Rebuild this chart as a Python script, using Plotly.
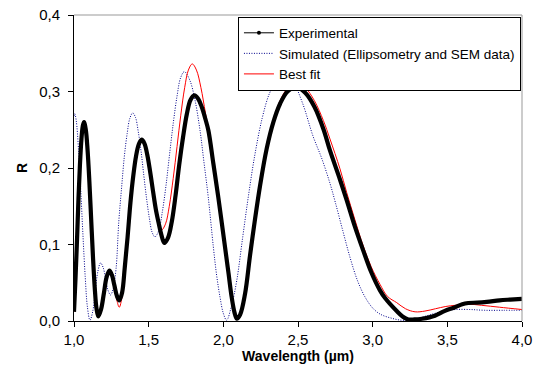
import plotly.graph_objects as go

# Experimental (black, thick)
exp_x = [1.000, 1.010, 1.020, 1.030, 1.040, 1.050, 1.059, 1.067, 1.079, 1.091, 1.103, 1.115, 1.127, 1.139,
         1.151, 1.163, 1.181, 1.200, 1.218, 1.237, 1.254, 1.270, 1.287, 1.303, 1.322, 1.340, 1.359, 1.378,
         1.397, 1.415, 1.434, 1.453, 1.472, 1.491, 1.510, 1.529, 1.548, 1.567, 1.586, 1.605, 1.630, 1.655,
         1.680, 1.705, 1.730, 1.755, 1.780, 1.806, 1.830, 1.855, 1.880, 1.900, 1.933, 1.966, 2.011, 2.035,
         2.056, 2.075, 2.090, 2.112, 2.145, 2.179, 2.210, 2.246, 2.290, 2.335, 2.380, 2.430, 2.491, 2.550,
         2.610, 2.670, 2.714, 2.781, 2.826, 2.880, 2.937, 2.990, 3.049, 3.083, 3.161, 3.200, 3.239, 3.280,
         3.330, 3.417, 3.480, 3.551, 3.600, 3.640, 3.700, 3.764, 3.850, 3.920, 4.000]
exp_y = [0.012, 0.055, 0.105, 0.160, 0.205, 0.238, 0.255, 0.260, 0.250, 0.223, 0.182, 0.133, 0.084, 0.043,
         0.016, 0.006, 0.015, 0.036, 0.057, 0.066, 0.060, 0.047, 0.033, 0.027, 0.037, 0.070, 0.110, 0.155,
         0.190, 0.215, 0.231, 0.237, 0.232, 0.217, 0.195, 0.170, 0.146, 0.128, 0.112, 0.102, 0.109, 0.130,
         0.164, 0.205, 0.240, 0.270, 0.289, 0.295, 0.291, 0.280, 0.264, 0.249, 0.206, 0.162, 0.097, 0.062,
         0.031, 0.011, 0.003, 0.008, 0.035, 0.086, 0.130, 0.177, 0.225, 0.260, 0.284, 0.300, 0.306, 0.298,
         0.280, 0.251, 0.223, 0.185, 0.158, 0.124, 0.092, 0.064, 0.040, 0.030, 0.013, 0.006, 0.002, 0.002,
         0.003, 0.007, 0.013, 0.018, 0.022, 0.0235, 0.024, 0.025, 0.027, 0.028, 0.029]

# Simulated (blue dotted)
sim_x = [1.000, 1.005, 1.015, 1.030, 1.045, 1.060, 1.075, 1.090, 1.107, 1.125, 1.142, 1.160, 1.178, 1.195,
         1.212, 1.228, 1.245, 1.263, 1.282, 1.300, 1.319, 1.337, 1.356, 1.374, 1.393, 1.412, 1.430, 1.449,
         1.467, 1.486, 1.505, 1.523, 1.542, 1.567, 1.591, 1.616, 1.640, 1.665, 1.690, 1.714, 1.739, 1.775,
         1.810, 1.844, 1.870, 1.899, 1.933, 1.955, 1.978, 2.000, 2.022, 2.055, 2.090, 2.130, 2.167, 2.210,
         2.260, 2.310, 2.360, 2.413, 2.470, 2.530, 2.600, 2.660, 2.714, 2.750, 2.800, 2.850, 2.900, 2.950,
         3.000, 3.050, 3.120, 3.195, 3.260, 3.330, 3.417, 3.480, 3.551, 3.650, 3.750, 3.870, 4.000]
sim_y = [0.268, 0.271, 0.262, 0.225, 0.172, 0.112, 0.058, 0.018, 0.001, 0.012, 0.038, 0.065, 0.076, 0.070,
         0.055, 0.040, 0.034, 0.043, 0.069, 0.130, 0.175, 0.215, 0.245, 0.265, 0.272, 0.266, 0.248, 0.222,
         0.191, 0.160, 0.134, 0.116, 0.110, 0.118, 0.142, 0.177, 0.218, 0.259, 0.294, 0.318, 0.326, 0.315,
         0.289, 0.249, 0.208, 0.162, 0.097, 0.060, 0.031, 0.010, 0.001, 0.020, 0.053, 0.110, 0.162, 0.216,
         0.265, 0.298, 0.315, 0.320, 0.311, 0.285, 0.242, 0.212, 0.180, 0.155, 0.118, 0.082, 0.052, 0.031,
         0.017, 0.009, 0.004, 0.001, 0.002, 0.005, 0.010, 0.013, 0.015, 0.015, 0.014, 0.014, 0.014]

# Best fit (red)
fit_x = [1.000, 1.010, 1.020, 1.030, 1.040, 1.050, 1.059, 1.067, 1.079, 1.091, 1.103, 1.115, 1.127, 1.139,
         1.151, 1.163, 1.181, 1.200, 1.218, 1.237, 1.254, 1.270, 1.287, 1.303, 1.322, 1.340, 1.359, 1.378,
         1.397, 1.415, 1.434, 1.453, 1.472, 1.491, 1.510, 1.529, 1.548, 1.567, 1.587, 1.613, 1.638, 1.664,
         1.690, 1.715, 1.741, 1.766, 1.792, 1.820, 1.850, 1.880, 1.910, 1.935, 1.966, 2.011, 2.035, 2.056,
         2.075, 2.090, 2.112, 2.145, 2.179, 2.210, 2.246, 2.290, 2.335, 2.380, 2.430, 2.502, 2.550, 2.610,
         2.670, 2.714, 2.781, 2.826, 2.880, 2.937, 2.990, 3.049, 3.100, 3.161, 3.220, 3.284, 3.350, 3.420,
         3.490, 3.551, 3.640, 3.730, 3.850, 4.000]
fit_y = [0.012, 0.055, 0.105, 0.160, 0.205, 0.238, 0.255, 0.260, 0.250, 0.223, 0.182, 0.133, 0.084, 0.043,
         0.016, 0.006, 0.015, 0.036, 0.057, 0.066, 0.058, 0.043, 0.027, 0.018, 0.032, 0.068, 0.110, 0.155,
         0.190, 0.215, 0.231, 0.237, 0.232, 0.217, 0.196, 0.172, 0.150, 0.131, 0.119, 0.127, 0.150, 0.186,
         0.228, 0.269, 0.305, 0.328, 0.336, 0.328, 0.305, 0.272, 0.238, 0.205, 0.165, 0.099, 0.063, 0.032,
         0.011, 0.003, 0.008, 0.035, 0.086, 0.130, 0.177, 0.227, 0.263, 0.288, 0.304, 0.312, 0.305, 0.288,
         0.262, 0.238, 0.199, 0.168, 0.133, 0.098, 0.071, 0.048, 0.032, 0.024, 0.016, 0.012, 0.013, 0.016,
         0.019, 0.0205, 0.022, 0.0205, 0.018, 0.015]

x_ticks = [1.0, 1.5, 2.0, 2.5, 3.0, 3.5, 4.0]
y_ticks = [0.0, 0.1, 0.2, 0.3, 0.4]

FONT = "Liberation Sans, Arial, sans-serif"

fig = go.Figure()

# legend-only entry for Experimental (thin line with a small dot)
fig.add_trace(go.Scatter(x=[None], y=[None], mode="lines+markers", name="Experimental",
                         line=dict(color="black", width=1), marker=dict(color="black", size=4)))
fig.add_trace(go.Scatter(x=sim_x, y=sim_y, mode="lines", name="Simulated (Ellipsometry and SEM data)",
                         line=dict(color="#00008B", width=1, dash="1px,1.5px", shape="spline")))
fig.add_trace(go.Scatter(x=fit_x, y=fit_y, mode="lines", name="Best fit",
                         line=dict(color="#FF0000", width=1, shape="spline")))
fig.add_trace(go.Scatter(x=exp_x, y=exp_y, mode="lines", name="Experimental", showlegend=False,
                         line=dict(color="black", width=4.2, shape="spline")))

fig.update_layout(
    width=538, height=372,
    margin=dict(l=74, r=16, t=15, b=51),
    paper_bgcolor="white", plot_bgcolor="white",
    separators=", ",
    font=dict(family=FONT, size=15, color="black"),
    showlegend=True,
    legend=dict(x=0.366, y=0.995, xanchor="left", yanchor="top",
                bgcolor="white", bordercolor="black", borderwidth=1,
                font=dict(family=FONT, size=13.5, color="black"),
                tracegroupgap=0, itemwidth=30),
    xaxis=dict(range=[1.0, 4.0], tickvals=x_ticks, tickformat=".1f", automargin=False,
               ticklabeloverflow="allow",
               showgrid=False, zeroline=False, showline=True, linecolor="black", linewidth=1,
               ticks="outside", ticklen=5, tickcolor="black",
               title=dict(text="<b>Wavelength (µm)</b>", font=dict(family=FONT, size=14), standoff=2)),
    yaxis=dict(range=[0.0, 0.4], tickvals=y_ticks, tickformat=".1f", automargin=False,
               ticklabeloverflow="allow", ticklabelstandoff=5,
               showgrid=False, zeroline=False, showline=True, linecolor="black", linewidth=1,
               ticks="outside", ticklen=5, tickcolor="black",
               title=dict(text="<b>R</b>", font=dict(family=FONT, size=14), standoff=8)),
    shapes=[
        dict(type="line", xref="paper", yref="paper", x0=0, x1=1, y0=1, y1=1,
             line=dict(color="#999999", width=1)),
        dict(type="line", xref="paper", yref="paper", x0=1, x1=1, y0=0, y1=1,
             line=dict(color="#999999", width=1)),
    ],
)

# remove the browser's default 8px body margin so the 538x372 figure fills the window exactly
fig.write_html("out.html", config={"displayModeBar": False},
               post_script="document.body.style.margin='0px';")
